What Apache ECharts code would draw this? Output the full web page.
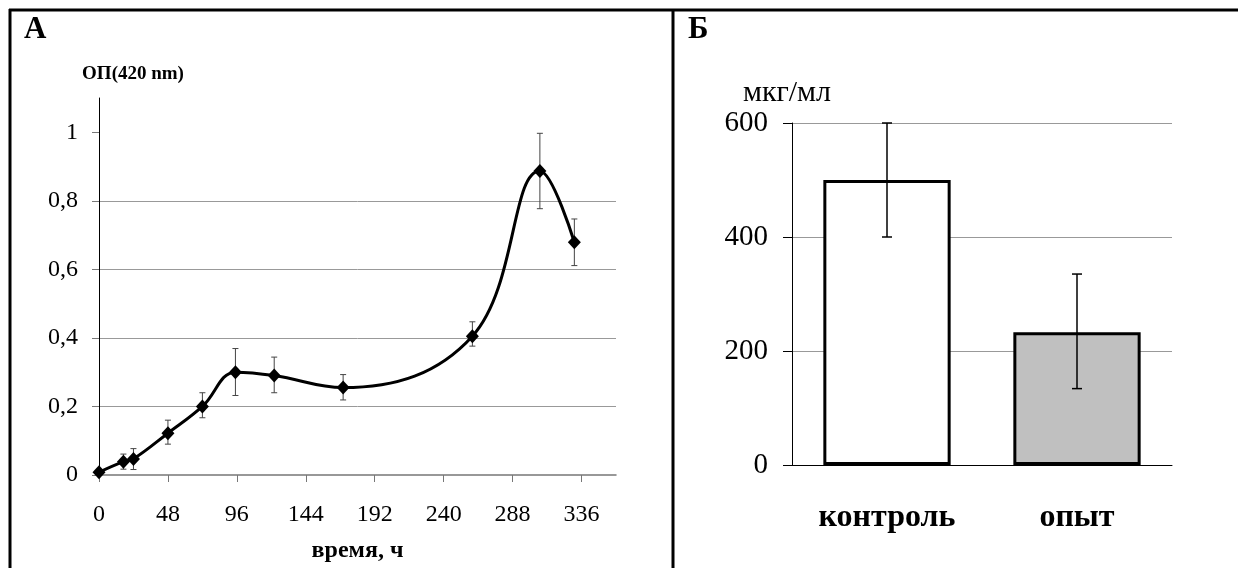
<!DOCTYPE html>
<html>
<head>
<meta charset="utf-8">
<script src="https://cdn.jsdelivr.net/npm/echarts@6/dist/echarts.min.js"></script>
<style>
html, body { margin: 0; padding: 0; background: #fff; }
#charts { width: 1238px; height: 568px; }
</style>
</head>
<body>
<div id="charts"></div>
<script>
// панель А: оптическая плотность во времени
var hours = [0, 17, 24, 48, 72, 95, 122, 170, 260, 307, 331];
var od = [0.008, 0.039, 0.047, 0.122, 0.2, 0.3, 0.29, 0.255, 0.405, 0.887, 0.679];
var odLow = [0.008, 0.017, 0.016, 0.09, 0.167, 0.232, 0.24, 0.219, 0.376, 0.777, 0.611];
var odHigh = [0.008, 0.061, 0.077, 0.16, 0.24, 0.369, 0.344, 0.293, 0.447, 0.997, 0.747];
var hourTicks = [0, 48, 96, 144, 192, 240, 288, 336];
var odTicks = [0, 0.2, 0.4, 0.6, 0.8, 1];

// панель Б: концентрация
var groups = ['контроль', 'опыт'];
var conc = [500, 233];
var concLow = [400, 134];
var concHigh = [600, 335];
var barColors = ['#ffffff', '#c0c0c0'];
var concTicks = [0, 200, 400, 600];

var serif = '"Liberation Serif", "DejaVu Serif", serif';

function errorBars(capHalf, width, color) {
    return function (params, api) {
        var x = api.value(0);
        var lo = api.coord([x, api.value(1)]);
        var hi = api.coord([x, api.value(2)]);
        var style = { stroke: color, lineWidth: width };
        return {
            type: 'group',
            children: [
                { type: 'line', shape: { x1: lo[0], y1: lo[1], x2: hi[0], y2: hi[1] }, style: style },
                { type: 'line', shape: { x1: lo[0] - capHalf, y1: lo[1], x2: lo[0] + capHalf, y2: lo[1] }, style: style },
                { type: 'line', shape: { x1: hi[0] - capHalf, y1: hi[1], x2: hi[0] + capHalf, y2: hi[1] }, style: style }
            ]
        };
    };
}

var myChart = echarts.init(document.getElementById('charts'));
var option = {
    backgroundColor: '#fff',
    animation: false,
    title: [
        { text: 'А', left: 24, top: 14, padding: 0,
          textStyle: { fontFamily: serif, fontSize: 31, fontWeight: 'bold', color: '#000' } },
        { text: 'Б', left: 688, top: 14, padding: 0,
          textStyle: { fontFamily: serif, fontSize: 31, fontWeight: 'bold', color: '#000' } }
    ],
    graphic: [
        { type: 'line', shape: { x1: 9, y1: 10, x2: 1238, y2: 10 }, style: { stroke: '#000', lineWidth: 3 } },
        { type: 'line', shape: { x1: 10, y1: 9, x2: 10, y2: 568 }, style: { stroke: '#000', lineWidth: 3 } },
        { type: 'line', shape: { x1: 673, y1: 9, x2: 673, y2: 568 }, style: { stroke: '#000', lineWidth: 3 } }
    ],
    grid: [
        { left: 99, top: 98, width: 517, height: 378 },
        { left: 792, top: 123, width: 380, height: 342 }
    ],
    xAxis: [
        {
            gridIndex: 0,
            type: 'value',
            min: 0,
            max: 360,
            interval: 48,
            name: 'время, ч',
            nameLocation: 'middle',
            nameGap: 64,
            nameTextStyle: { fontFamily: serif, fontSize: 24, fontWeight: 'bold', color: '#000' },
            axisLine: { lineStyle: { color: '#777', width: 1.5 } },
            axisTick: { length: 7, customValues: hourTicks, lineStyle: { color: '#777' } },
            axisLabel: { customValues: hourTicks, margin: 28, fontFamily: serif, fontSize: 24, color: '#000' },
            splitLine: { show: false }
        },
        {
            gridIndex: 1,
            type: 'category',
            data: groups,
            axisLine: { lineStyle: { color: '#000', width: 1 } },
            axisTick: { length: 10, lineStyle: { color: '#000' } },
            axisLabel: { margin: 37, fontFamily: serif, fontSize: 32, fontWeight: 'bold', color: '#000' }
        }
    ],
    yAxis: [
        {
            gridIndex: 0,
            type: 'value',
            min: 0,
            max: 1.1,
            interval: 0.2,
            name: 'ОП(420 nm)',
            nameLocation: 'end',
            nameGap: 14,
            nameTextStyle: { fontFamily: serif, fontSize: 19, fontWeight: 'bold', color: '#000',
                             align: 'center', padding: [0, 0, 0, 68] },
            axisLine: { show: true, lineStyle: { color: '#000', width: 1 } },
            axisTick: { show: true, length: 7, customValues: odTicks, lineStyle: { color: '#777' } },
            axisLabel: {
                customValues: odTicks, margin: 21, fontFamily: serif, fontSize: 24, color: '#000',
                formatter: function (v) { return String(v).replace('.', ','); }
            },
            splitLine: { show: true, showMinLine: false, showMaxLine: false, lineStyle: { color: '#999', width: 1 } }
        },
        {
            gridIndex: 1,
            type: 'value',
            min: 0,
            max: 600,
            interval: 200,
            name: 'мкг/мл',
            nameLocation: 'end',
            nameGap: 12,
            nameTextStyle: { fontFamily: serif, fontSize: 30, color: '#000', align: 'center', padding: [0, 10, 0, 0] },
            axisLine: { show: true, lineStyle: { color: '#000', width: 1 } },
            axisTick: { show: true, length: 9, lineStyle: { color: '#000' } },
            axisLabel: { margin: 24, fontFamily: serif, fontSize: 29, color: '#000' },
            splitLine: { show: true, showMinLine: false, lineStyle: { color: '#999', width: 1 } }
        }
    ],
    series: [
        {
            type: 'custom',
            xAxisIndex: 0,
            yAxisIndex: 0,
            renderItem: errorBars(3, 1, '#444'),
            data: hours.map(function (h, i) { return [h, odLow[i], odHigh[i]]; }),
            z: 2
        },
        {
            type: 'line',
            xAxisIndex: 0,
            yAxisIndex: 0,
            smooth: 0.4,
            symbol: 'diamond',
            symbolSize: [13, 14],
            lineStyle: { color: '#000', width: 3 },
            itemStyle: { color: '#000' },
            data: hours.map(function (h, i) { return [h, od[i]]; }),
            z: 3
        },
        {
            type: 'bar',
            xAxisIndex: 1,
            yAxisIndex: 1,
            barWidth: '67%',
            data: conc.map(function (v, i) {
                return { value: v, itemStyle: { color: barColors[i], borderColor: '#000', borderWidth: 3 } };
            }),
            z: 2
        },
        {
            type: 'custom',
            xAxisIndex: 1,
            yAxisIndex: 1,
            renderItem: errorBars(5, 1.5, '#000'),
            data: groups.map(function (g, i) { return [i, concLow[i], concHigh[i]]; }),
            z: 3
        }
    ]
};
myChart.setOption(option);
</script>
</body>
</html>
